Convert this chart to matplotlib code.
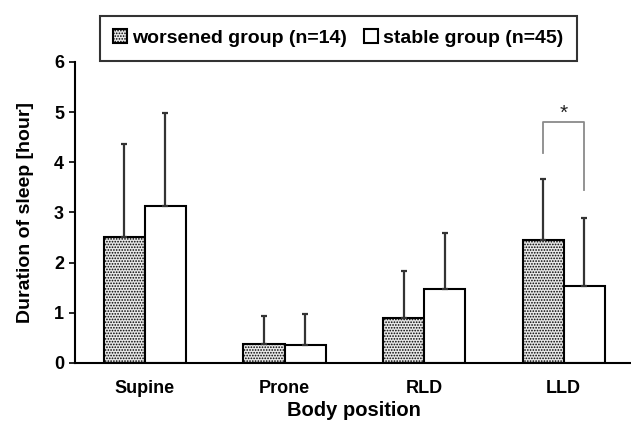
import matplotlib
matplotlib.use("Agg")
import matplotlib.pyplot as plt
import numpy as np

plt.rcParams['font.family'] = ['Liberation Sans', 'DejaVu Sans']
plt.rcParams['hatch.color'] = '#a8a8a8'
plt.rcParams['hatch.linewidth'] = 0.8

categories = ["Supine", "Prone", "RLD", "LLD"]
worsened_mean = [2.52, 0.37, 0.89, 2.45]
worsened_sd = [1.85, 0.57, 0.94, 1.22]
stable_mean = [3.13, 0.35, 1.47, 1.53]
stable_sd = [1.85, 0.63, 1.12, 1.36]
yticks = [0, 1, 2, 3, 4, 5, 6]

fig = plt.figure(figsize=(6.31, 4.24), dpi=100)
ax = fig.add_axes([0.119, 0.144, 0.885, 0.71])

x = np.arange(len(categories))
w = 0.294
ekw = dict(ecolor='#333333', elinewidth=1.6, capsize=2.5, capthick=1.6)
ax.bar(x - w/2, worsened_mean, w, color='#e8e8e8', edgecolor='black', linewidth=1.5,
       hatch='......', label='worsened group (n=14)',
       yerr=[np.zeros(4), worsened_sd], error_kw=ekw)
ax.bar(x + w/2, stable_mean, w, color='white', edgecolor='black', linewidth=1.5,
       label='stable group (n=45)',
       yerr=[np.zeros(4), stable_sd], error_kw=ekw)

# significance bracket for LLD
ax.plot([3 - w/2, 3 - w/2, 3 + w/2, 3 + w/2], [4.18, 4.8, 4.8, 3.45], color='#8a8a8a', lw=1.3)
ax.text(3, 4.78, '*', ha='center', va='bottom', fontsize=15, color='#222222')

ax.set_xlim(-0.5, 3.5)
ax.set_ylim(0, 6)
ax.set_yticks(yticks)
ax.set_xticks(x)
ax.set_xticklabels(categories, fontsize=13, fontweight='bold')
ax.tick_params(axis='x', length=0, pad=12)
ax.tick_params(axis='y', direction='out', length=4, width=1.2, labelsize=13, pad=4)
for lab in ax.get_yticklabels():
    lab.set_fontweight('bold')
ax.spines['top'].set_visible(False)
ax.spines['right'].set_visible(False)
ax.spines['left'].set_linewidth(1.5)
ax.spines['bottom'].set_linewidth(1.5)
ax.set_xlabel('Body position', fontsize=14.5, fontweight='bold', labelpad=3)
ax.set_ylabel('Duration of sleep [hour]', fontsize=14, fontweight='bold', labelpad=14)

leg = fig.legend(loc='center', bbox_to_anchor=(0.536, 0.910), ncol=2,
                 prop={'weight': 'bold', 'size': 14}, frameon=True, fancybox=False,
                 handlelength=0.7, handleheight=0.7, handletextpad=0.25, columnspacing=0.9,
                 borderpad=0.7)
leg.get_frame().set_edgecolor('black')
leg.get_frame().set_linewidth(1.5)

fig.savefig('out.png', dpi=100)
